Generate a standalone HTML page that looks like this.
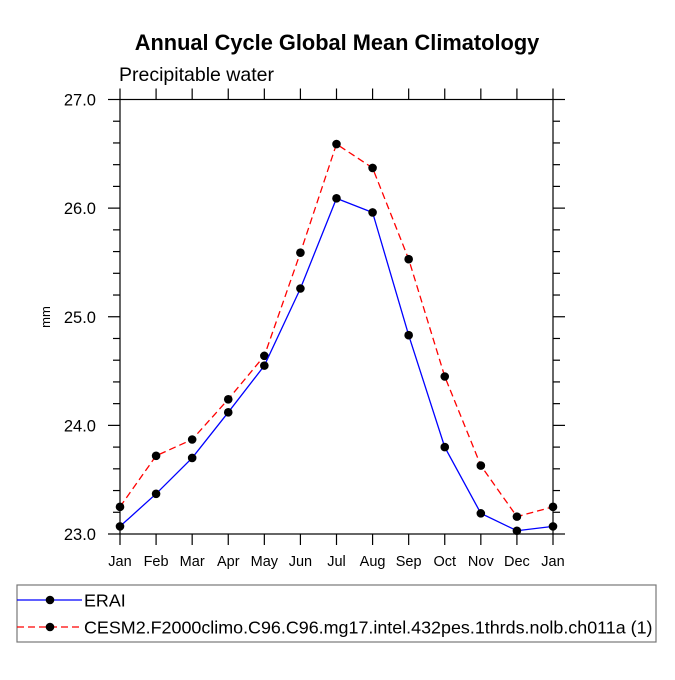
<!DOCTYPE html>
<html><head><meta charset="utf-8"><style>
body{margin:0;background:#fff}
text{font-family:"Liberation Sans",Arial,sans-serif}
</style></head><body>
<svg id="chart" width="675" height="675" viewBox="0 0 675 675" xmlns="http://www.w3.org/2000/svg">
<text x="337" y="50" text-anchor="middle" font-size="21.8" font-weight="bold">Annual Cycle Global Mean Climatology</text>
<text x="119" y="81" font-size="19.5">Precipitable water</text>
<text x="0" y="0" transform="translate(50,317) rotate(-90)" text-anchor="middle" font-size="13">mm</text>
<g id="axes"></g>
<g id="series"></g>
<rect x="17" y="585" width="639" height="57" fill="none" stroke="#777" stroke-width="1.2"/>
<g id="legend"></g>
</svg>
<script>
const months=["Jan","Feb","Mar","Apr","May","Jun","Jul","Aug","Sep","Oct","Nov","Dec","Jan"];
const erai=[23.07,23.37,23.70,24.12,24.55,25.26,26.09,25.96,24.83,23.80,23.19,23.03,23.07];
const cesm=[23.25,23.72,23.87,24.24,24.64,25.59,26.59,26.37,25.53,24.45,23.63,23.16,23.25];
const yTicks=[23,24,25,26,27];
const yTickLabels=["23.0","24.0","25.0","26.0","27.0"];
const seriesNames=["ERAI","CESM2.F2000climo.C96.C96.mg17.intel.432pes.1thrds.nolb.ch011a (1)"];
const L=120,R=553,T=99.5,B=534,yMin=23,yMax=27;
const NS="http://www.w3.org/2000/svg";
const xs=i=>L+(R-L)*i/(months.length-1);
const ys=v=>B-(v-yMin)/(yMax-yMin)*(B-T);
function mk(t,a,p){const e=document.createElementNS(NS,t);for(const k in a)e.setAttribute(k,a[k]);p.appendChild(e);return e;}
const ax=document.getElementById('axes');
let fr=mk('rect',{x:L,y:T,width:R-L,height:B-T,fill:'none',stroke:'#000','stroke-width':1.2},ax);


months.forEach((m,i)=>{const x=xs(i);
 mk('line',{x1:x,x2:x,y1:B,y2:B+11,stroke:'#000','stroke-width':1.2},ax);
 mk('line',{x1:x,x2:x,y1:T,y2:T-11,stroke:'#000','stroke-width':1.2},ax);
 const t=mk('text',{x:x,y:B+32,'text-anchor':'middle','font-size':14.5},ax);t.textContent=m;
 
 
});
for(let v=yMin;v<=yMax+1e-9;v+=0.2){const y=ys(v);const major=Math.abs(v-Math.round(v))<1e-6;const len=major?12:7;
 mk('line',{x1:L-len,x2:L,y1:y,y2:y,stroke:'#000','stroke-width':1.2},ax);
 mk('line',{x1:R,x2:R+len,y1:y,y2:y,stroke:'#000','stroke-width':1.2},ax);}
yTicks.forEach((v,i)=>{const t=mk('text',{x:L-24,y:ys(v)+6,'text-anchor':'end','font-size':16.5},ax);t.textContent=yTickLabels[i];
 
 });
const sg=document.getElementById('series');
function draw(vals,color,dash,name){
 const g=mk('g',{},sg);
 
 
 mk('polyline',{points:vals.map((v,i)=>xs(i)+','+ys(v)).join(' '),fill:'none',stroke:color,'stroke-width':1.3,'stroke-dasharray':dash},g);
 vals.forEach((v,i)=>{const c=mk('circle',{cx:xs(i),cy:ys(v),r:4.3,fill:'#000'},g);
  
  });
}
draw(cesm,'#f00','7 4','series-cesm');
draw(erai,'#00f','none','series-erai');
const lg=document.getElementById('legend');
[[600,'#00f','none'],[627,'#f00','7 4']].forEach((r,i)=>{
 const g=mk('g',{},lg);
 
 
 mk('line',{x1:17,x2:82,y1:r[0],y2:r[0],stroke:r[1],'stroke-width':1.3,'stroke-dasharray':r[2]},g);
 mk('circle',{cx:50,cy:r[0],r:4.3,fill:'#000'},g);
 const t=mk('text',{x:84,y:r[0]+6.5,'font-size':17.9},g);t.textContent=seriesNames[i];
});
</script>
</body></html>
